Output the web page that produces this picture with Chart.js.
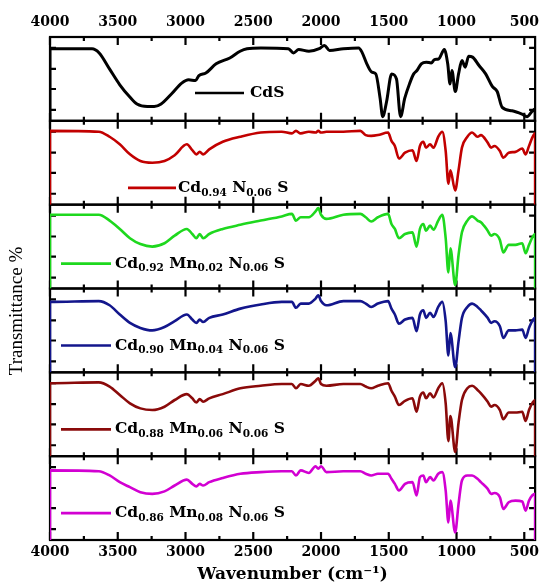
<!DOCTYPE html>
<html>
<head>
<meta charset="utf-8">
<script src="https://cdn.jsdelivr.net/npm/chart.js@4/dist/chart.umd.min.js"></script>
<style>
  html, body { margin: 0; padding: 0; background: #fff; }
</style>
</head>
<body>
<canvas id="ftir" width="545" height="585"></canvas>
<script>
// --- data (transmittance as % of each panel's height) ---
const wnCdS = [4000, 4000, 3690, 3637, 3561, 3485, 3409, 3358, 3282, 3231,
  3180, 3104, 3028, 2977, 2926, 2901, 2850, 2774, 2673, 2597,
  2546, 2444, 2241, 2203, 2165, 2089, 2013, 1975, 1937, 1835,
  1722, 1698, 1662, 1625, 1596, 1564, 1545, 1516, 1479, 1443,
  1413, 1382, 1345, 1316, 1292, 1260, 1223, 1187, 1163, 1131,
  1090, 1065, 1048, 1034, 1009, 985, 960, 936, 911, 882,
  834, 785, 736, 700, 663, 590, 517, 480, 444, 420, 420];
const tCdS = [0, 86, 86, 81, 62, 43, 28, 20, 17, 17,
  20, 32, 45, 49, 48, 54, 57, 68, 75, 83,
  86, 87, 86, 81, 85, 83, 86, 90, 84, 86,
  87, 82, 68, 58, 56, 27, 5, 23, 56, 50,
  5, 27, 45, 56, 60, 68, 70, 69, 73, 74,
  85, 68, 44, 60, 35, 56, 72, 64, 77, 76,
  66, 56, 41, 35, 16, 12, 8, 5, 11, 14, 0];

// the five doped samples share one wavenumber grid
const wnDoped = [4000, 4000, 3640, 3560, 3485, 3410, 3333, 3245, 3155, 3080,
  2990, 2950, 2920, 2895, 2870, 2825, 2725, 2595, 2445, 2290,
  2215, 2185, 2150, 2090, 2040, 2020, 2000, 1960, 1835, 1710,
  1670, 1630, 1580, 1505, 1480, 1455, 1425, 1380, 1325, 1295,
  1270, 1245, 1225, 1195, 1170, 1135, 1105, 1080, 1060, 1045,
  1010, 985, 960, 920, 885, 845, 820, 770, 745, 720,
  680, 655, 615, 565, 515, 490, 465, 420, 420];
const tN006 = [0, 88, 87, 81, 72, 60, 52, 50, 52, 59, 72,
  65, 60, 63, 60, 66, 75, 81, 86, 87, 85,
  88, 85, 87, 86, 88, 86, 87, 87, 88, 83,
  82, 83, 86, 76, 70, 55, 62, 65, 52, 70,
  75, 68, 72, 68, 81, 87, 64, 25, 41, 17,
  41, 68, 81, 86, 81, 83, 74, 68, 70, 64,
  56, 62, 63, 67, 60, 70, 85, 0];
const tMn002 = [0, 88, 88, 81, 71, 60, 53, 50, 54, 63, 71,
  65, 60, 65, 60, 65, 71, 76, 81, 86, 89,
  81, 85, 85, 92, 96, 88, 83, 88, 89, 85,
  80, 85, 89, 77, 71, 60, 65, 67, 50, 71,
  77, 69, 75, 70, 81, 88, 60, 19, 48, 4,
  40, 67, 81, 86, 81, 79, 69, 63, 65, 58,
  43, 52, 52, 54, 42, 52, 65, 0];
const tMn004 = [0, 84, 85, 80, 69, 59, 53, 50, 54, 61, 69,
  63, 59, 63, 60, 65, 69, 76, 81, 84, 84,
  77, 82, 82, 88, 92, 85, 80, 85, 85, 82,
  78, 82, 85, 76, 69, 58, 63, 65, 49, 69,
  74, 65, 71, 66, 78, 84, 61, 20, 47, 6,
  37, 65, 78, 82, 78, 74, 65, 59, 61, 55,
  41, 50, 50, 51, 41, 53, 65, 0];
const tMn006 = [0, 87, 88, 83, 73, 63, 57, 55, 59, 67, 74,
  69, 64, 68, 65, 69, 74, 81, 84, 86, 86,
  81, 86, 84, 90, 93, 86, 84, 86, 86, 83,
  81, 84, 87, 78, 71, 61, 66, 69, 53, 71,
  76, 69, 75, 70, 81, 87, 63, 18, 48, 5,
  40, 67, 81, 84, 79, 75, 65, 59, 61, 55,
  44, 52, 52, 53, 42, 55, 67, 0];
const tMn008 = [0, 83, 82, 77, 69, 63, 57, 55, 58, 65, 72,
  67, 64, 67, 65, 69, 74, 79, 81, 82, 82,
  77, 83, 80, 88, 85, 88, 81, 82, 82, 79,
  77, 79, 79, 73, 67, 59, 67, 69, 53, 75,
  77, 69, 75, 71, 79, 81, 59, 21, 47, 9,
  43, 71, 77, 77, 73, 69, 61, 55, 56, 51,
  37, 45, 47, 46, 35, 47, 55, 0];

const sampleNames = ['CdS', 'Cd_{0.94} N_{0.06} S', 'Cd_{0.92} Mn_{0.02} N_{0.06} S',
  'Cd_{0.90} Mn_{0.04} N_{0.06} S', 'Cd_{0.88} Mn_{0.06} N_{0.06} S', 'Cd_{0.86} Mn_{0.08} N_{0.06} S'];
const seriesX = [wnCdS, wnDoped, wnDoped, wnDoped, wnDoped, wnDoped];
const seriesT = [tCdS, tN006, tMn002, tMn004, tMn006, tMn008];
const xTickValues = [4000, 3500, 3000, 2500, 2000, 1500, 1000, 500];
const yTickMarks = [13, 38, 62, 87];

const lineColors = ['#000000', '#c20000', '#1ed81e', '#13168c', '#8a0a0a', '#d200d2'];
const SERIF = 'DejaVu Serif';

// legend placement inside each panel: px from plot left, px from panel top
const legendSpots = [
  { x0: 145, x1: 194, tx: 200, dy: 56 },
  { x0: 78, x1: 126, tx: 128, dy: 67 },
  { x0: 11, x1: 61, tx: 65, dy: 59 },
  { x0: 11, x1: 61, tx: 65, dy: 57 },
  { x0: 11, x1: 61, tx: 65, dy: 57 },
  { x0: 11, x1: 61, tx: 65, dy: 57 }
];

const panelIds = sampleNames.map((_, i) => 'p' + i);

// frames + inward tick marks for every panel
const panelFrames = {
  id: 'panelFrames',
  beforeDatasetsDraw(chart) {
    const { ctx, chartArea, scales } = chart;
    const xs = scales.x;
    const marks = [];
    xTickValues.forEach(v => {
      marks.push([xs.getPixelForValue(v), 8]);
      if (v + 250 <= 4000) marks.push([xs.getPixelForValue(v + 250), 4]);
    });
    ctx.save();
    ctx.strokeStyle = '#000';
    ctx.lineWidth = 2.2;
    panelIds.forEach(id => {
      const ys = scales[id];
      ctx.strokeRect(chartArea.left, ys.top, chartArea.right - chartArea.left, ys.bottom - ys.top);
      ctx.beginPath();
      marks.forEach(([px, len]) => {
        ctx.moveTo(px, ys.top);
        ctx.lineTo(px, ys.top + len);
        ctx.moveTo(px, ys.bottom);
        ctx.lineTo(px, ys.bottom - len);
      });
      yTickMarks.forEach(v => {
        const py = ys.getPixelForValue(v);
        ctx.moveTo(chartArea.left, py);
        ctx.lineTo(chartArea.left + 6, py);
        ctx.moveTo(chartArea.right, py);
        ctx.lineTo(chartArea.right - 6, py);
      });
      ctx.stroke();
    });
    ctx.restore();
  }
};

// legend lines with subscripted labels, and the shared y title
function drawRich(ctx, text, x, y) {
  const parts = text.split(/(_\{[^}]*\})/).filter(p => p.length);
  parts.forEach(p => {
    const sub = p.startsWith('_{');
    const s = sub ? p.slice(2, -1) : p;
    ctx.font = `bold ${sub ? 10.5 : 15.5}px "${SERIF}"`;
    ctx.fillText(s, x, sub ? y + 5 : y);
    x += ctx.measureText(s).width;
  });
}

const panelLegends = {
  id: 'panelLegends',
  afterDatasetsDraw(chart) {
    const { ctx, chartArea, scales } = chart;
    ctx.save();
    ctx.textBaseline = 'middle';
    ctx.fillStyle = '#000';
    panelIds.forEach((id, i) => {
      const spot = legendSpots[i];
      const y = scales[id].top + spot.dy;
      ctx.strokeStyle = lineColors[i];
      ctx.lineWidth = 2.6;
      ctx.beginPath();
      ctx.moveTo(chartArea.left + spot.x0, y);
      ctx.lineTo(chartArea.left + spot.x1, y);
      ctx.stroke();
      drawRich(ctx, sampleNames[i], chartArea.left + spot.tx, y);
    });
    ctx.translate(17, 311);
    ctx.rotate(-Math.PI / 2);
    ctx.textAlign = 'center';
    ctx.font = '19px "Liberation Serif"';
    ctx.fillText('Transmittance %', 0, 0);
    ctx.restore();
  }
};

const xAxisBase = {
  type: 'linear',
  min: 420,
  max: 4000,
  reverse: true,
  afterBuildTicks: s => { s.ticks = xTickValues.map(v => ({ value: v })); },
  grid: { display: false, drawTicks: false },
  border: { display: false },
  ticks: {
    color: '#000',
    autoSkip: false,
    maxRotation: 0,
    callback: v => String(v),
    font: { family: SERIF, weight: 'bold', size: 14 }
  }
};

const scales = {
  x: Object.assign({}, xAxisBase, {
    position: 'bottom',
    afterFit: s => { s.height = 45; },
    ticks: Object.assign({}, xAxisBase.ticks, { padding: 4 }),
    title: {
      display: true,
      text: 'Wavenumber (cm⁻¹)',
      color: '#000',
      font: { family: SERIF, weight: 'bold', size: 17 },
      padding: { top: 0, bottom: 0 }
    }
  }),
  x2: Object.assign({}, xAxisBase, {
    position: 'top',
    afterFit: s => { s.height = 37; },
    ticks: Object.assign({}, xAxisBase.ticks, { padding: 6 })
  })
};
panelIds.forEach((id, i) => {
  scales[id] = {
    type: 'linear',
    position: 'left',
    stack: 'panels',
    stackWeight: 1,
    weight: panelIds.length - i,
    min: 0,
    max: 100,
    afterBuildTicks: s => { s.ticks = yTickMarks.map(v => ({ value: v })); },
    afterFit: s => { s.width = 0; },
    ticks: { display: false },
    grid: { display: false, drawTicks: false },
    border: { display: false }
  };
});

new Chart(document.getElementById('ftir'), {
  type: 'line',
  data: {
    datasets: seriesT.map((vals, i) => ({
      label: sampleNames[i],
      data: seriesX[i].map((w, k) => ({ x: w, y: vals[k] })),
      xAxisID: 'x',
      yAxisID: panelIds[i],
      borderColor: lineColors[i],
      borderWidth: i === 0 ? 3 : 2.6,
      pointRadius: 0,
      cubicInterpolationMode: 'monotone',
      fill: false
    }))
  },
  options: {
    responsive: false,
    animation: false,
    devicePixelRatio: 1,
    layout: { padding: { left: 50, right: 5, top: 0, bottom: 0 } },
    plugins: { legend: { display: false }, tooltip: { enabled: false } },
    scales
  },
  plugins: [panelFrames, panelLegends]
});
</script>
</body>
</html>
